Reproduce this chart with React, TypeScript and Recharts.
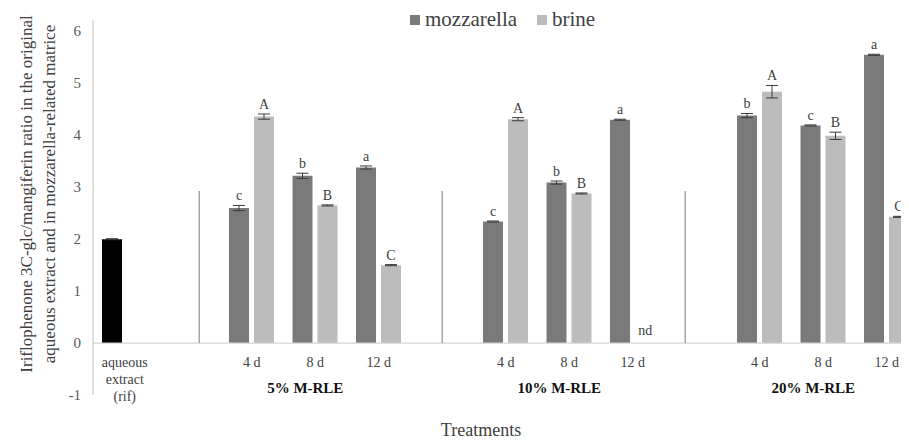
import React from 'react';
import { BarChart, Bar, XAxis, YAxis, ErrorBar, LabelList, ReferenceLine, ReferenceDot, Cell, Label } from 'recharts';

// categories along the x axis (gap entries hold the separators between groups)
const categories = ['rif', 'gap 5%', '5% 4 d', '5% 8 d', '5% 12 d', 'gap 10%', '10% 4 d', '10% 8 d', '10% 12 d', 'gap 20%', '20% 4 d', '20% 8 d', '20% 12 d'];
const tickLabels = ['aqueous extract (rif)', '', '4 d', '8 d', '12 d', '', '4 d', '8 d', '12 d', '', '4 d', '8 d', '12 d'];
const groupLabels = ['5% M-RLE', '10% M-RLE', '20% M-RLE'];
const groupCenters = ['5% 8 d', '10% 8 d', '20% 8 d'];
const separators = ['gap 5%', 'gap 10%', 'gap 20%'];
const separatorTop = 2.93;

const seriesNames = ['mozzarella', 'brine'];
const mozzarella = [2.0, null, 2.6, 3.22, 3.38, null, 2.34, 3.09, 4.3, null, 4.38, 4.19, 5.55];
const mozzarellaErr = [0.01, null, 0.05, 0.05, 0.03, null, 0.01, 0.03, 0.01, null, 0.04, 0.01, 0.01];
const brine = [null, null, 4.36, 2.65, 1.5, null, 4.31, 2.88, null, null, 4.84, 3.99, 2.43];
const brineErr = [null, null, 0.05, 0.01, 0.01, null, 0.03, 0.01, null, null, 0.12, 0.07, 0.01];
const mozzarellaLetters = ['', '', 'c', 'b', 'a', '', 'c', 'b', 'a', '', 'b', 'c', 'a'];
const brineLetters = ['', '', 'A', 'B', 'C', '', 'A', 'B', '', '', 'A', 'B', 'C'];
const notDetected = ['10% 12 d']; // brine, shown as "nd"
const yTicks = [-1, 0, 1, 2, 3, 4, 5, 6];

const yTitle = [
  'Iriflophenone 3C-glc/mangiferin ratio in the original',
  'aqueous extract and in mozzarella-related matrice',
];

const COLORS = { mozzarella: '#7a7a7a', brine: '#bcbcbc', rif: '#000000' };
const FONT = '"Liberation Serif", "Times New Roman", serif';
const TEXT = '#404040';

const data = categories.map((category, i) => ({
  category,
  mozzarella: mozzarella[i],
  mozzarellaErr: mozzarellaErr[i],
  brine: brine[i],
  brineErr: brineErr[i],
}));

function CategoryTick(props: any) {
  const { x, y, payload } = props;
  const i = categories.indexOf(payload.value);
  const label = tickLabels[i];
  const g = groupCenters.indexOf(payload.value);
  return (
    <g>
      {i === 0 ? (
        <text x={x} textAnchor="middle" fill={TEXT} fontSize={14} fontFamily={FONT}>
          <tspan x={x} y={y - 28}>aqueous</tspan>
          <tspan x={x} y={y - 11}>extract</tspan>
          <tspan x={x} y={y + 6}>(rif)</tspan>
        </text>
      ) : label ? (
        <text x={x} y={y - 28} textAnchor="middle" fill={TEXT} fontSize={14} fontFamily={FONT}>
          {label}
        </text>
      ) : null}
      {g >= 0 && (
        <text x={x - 10} y={y - 2} textAnchor="middle" fill="#111" fontSize={15} fontWeight="bold" fontFamily={FONT}>
          {groupLabels[g]}
        </text>
      )}
    </g>
  );
}

function ValueTick(props: any) {
  const { x, y, payload } = props;
  return (
    <text x={x} y={y} dy={5} textAnchor="end" fill="#595959" fontSize={15} fontFamily={FONT}>
      {payload.value}
    </text>
  );
}

// LabelList indexes only the bars that exist, so map back to the category index
function letterContent(letters: string[], values: (number | null)[], errs: (number | null)[]) {
  const present = values.map((v, i) => (v == null || v === 0 ? -1 : i)).filter((i) => i >= 0);
  return (props: any) => {
    const { x, y, width, height } = props;
    const i = present[props.index];
    if (i == null) return null;
    const letter = letters[i];
    if (!letter) return null;
    const v = values[i] || 0;
    const e = errs[i] || 0;
    const errPx = v ? (e * Math.abs(height)) / v : 0;
    return (
      <text x={x + width / 2} y={y - errPx - 5} textAnchor="middle" fill={TEXT} fontSize={14} fontFamily={FONT}>
        {letter}
      </text>
    );
  };
}

const separatorShift = [11, 0, -11];

export default function App() {
  return (
    <div style={{ position: 'relative', width: 901, height: 433, overflow: 'hidden' }}>
      <BarChart
        width={920}
        height={433}
        data={data}
        margin={{ top: 12, right: 9.5, bottom: 16, left: 25 }}
        barSize={20}
        barGap={5}
      >
        <XAxis
          dataKey="category"
          axisLine={false}
          tickLine={false}
          tickSize={0}
          tickMargin={0}
          height={30}
          interval={0}
          tick={<CategoryTick />}
        >
          <Label
            content={() => (
              <text x={473} y={428} textAnchor="middle" fill={TEXT} fontSize={18} fontFamily={FONT}>
                Treatments
              </text>
            )}
          />
        </XAxis>
        <YAxis
          type="number"
          domain={[-1, 6.22]}
          ticks={yTicks}
          width={60}
          axisLine={{ stroke: '#bfbfbf' }}
          tickLine={false}
          tickSize={0}
          tickMargin={12}
          tick={<ValueTick />}
        >
          <Label
            content={() => (
              <g fill={TEXT} fontSize={17} fontFamily={FONT}>
                {yTitle.map((line, k) => (
                  <text key={k} x={24 + k * 23} y={186} textAnchor="middle" transform={`rotate(-90, ${24 + k * 23}, 186)`}>
                    {line}
                  </text>
                ))}
              </g>
            )}
          />
        </YAxis>
        <ReferenceLine y={0} stroke="#d4d4d4" strokeWidth={1.2} />
        {separators.map((s, k) => (
          <ReferenceLine
            key={s}
            segment={[{ x: s, y: 0 }, { x: s, y: separatorTop }]}
            shape={(p: any) => (
              <line
                x1={p.x1 + separatorShift[k]}
                y1={p.y1}
                x2={p.x2 + separatorShift[k]}
                y2={p.y2}
                stroke="#9a9a9a"
                strokeWidth={1.3}
              />
            )}
          />
        ))}
        {notDetected.map((c) => (
          <ReferenceDot
            key={c}
            x={c}
            y={0}
            r={0}
            shape={(p: any) => (
              <text x={p.cx + 12.5} y={p.cy - 8} textAnchor="middle" fill={TEXT} fontSize={14} fontFamily={FONT}>
                nd
              </text>
            )}
          />
        ))}
        <Bar dataKey="mozzarella" fill={COLORS.mozzarella} isAnimationActive={false}>
          {data.map((d, i) => (
            <Cell key={i} fill={i === 0 ? COLORS.rif : COLORS.mozzarella} />
          ))}
          <ErrorBar dataKey="mozzarellaErr" width={6} stroke="#3a3a3a" strokeWidth={1} />
          <LabelList dataKey="mozzarella" content={letterContent(mozzarellaLetters, mozzarella, mozzarellaErr)} />
        </Bar>
        <Bar dataKey="brine" fill={COLORS.brine} isAnimationActive={false}>
          <ErrorBar dataKey="brineErr" width={6} stroke="#3a3a3a" strokeWidth={1} />
          <LabelList dataKey="brine" content={letterContent(brineLetters, brine, brineErr)} />
        </Bar>
      </BarChart>
      <svg width={901} height={40} style={{ position: 'absolute', left: 0, top: 0 }}>
        {seriesNames.map((name, k) => {
          const x0 = k === 0 ? 402 : 529;
          return (
            <g key={name}>
              <rect x={x0} y={7} width={10} height={10} fill={name === 'mozzarella' ? COLORS.mozzarella : COLORS.brine} />
              <text x={x0 + 15} y={18} fill={TEXT} fontSize={21} fontFamily={FONT}>
                {name}
              </text>
            </g>
          );
        })}
      </svg>
    </div>
  );
}
